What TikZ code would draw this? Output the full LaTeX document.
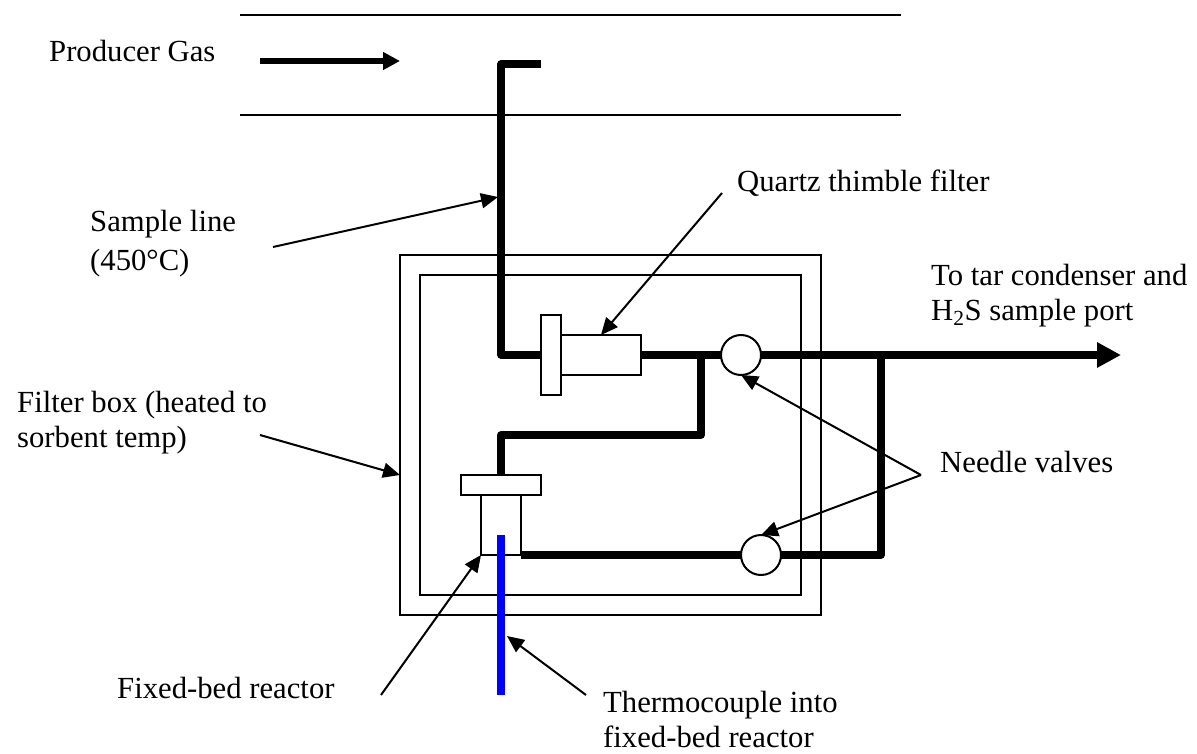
\documentclass[tikz,border=0pt]{standalone}
\usepackage{fontspec}
\setmainfont{Liberation Serif}
\usetikzlibrary{arrows.meta}
\tikzset{
  x=1pt,y=-1pt,
  thin line/.style={line width=2pt,black},
  pipe/.style={line width=7.3pt,black,line join=round},
  leader/.style={line width=2pt,black,-{Triangle[length=17pt,width=15pt]}},
  boxpart/.style={draw=black,line width=2pt,fill=white,rectangle,inner sep=0pt,outer sep=0pt},
  valvepart/.style={draw=black,line width=2pt,fill=white,circle,inner sep=0pt,outer sep=0pt,minimum size=40pt},
  lbl/.style={font=\fontsize{30.7}{35}\selectfont,inner sep=0pt,align=left,anchor=base west},
}
\newcommand{\boxat}[6][]{\node[boxpart,minimum width=#5pt-#3pt,minimum height=#6pt-#4pt,#1] (#2) at ({(#3+#5)/2},{(#4+#6)/2}) {};}
\begin{document}
\begin{tikzpicture}
\useasboundingbox (0,0) rectangle (1197,754);
% coordinates
\coordinate (ductAl) at (240,15); \coordinate (ductAr) at (901,15);
\coordinate (ductBl) at (240,115); \coordinate (ductBr) at (901,115);
\coordinate (flowS) at (260,61); \coordinate (flowE) at (400,61);
\coordinate (inlet) at (541,64); \coordinate (bendT) at (501,64); \coordinate (bendB) at (501,355);
\coordinate (tee) at (701,355); \coordinate (bendC) at (701,435); \coordinate (bendD) at (501,435);
\coordinate (tee2) at (881,355); \coordinate (bendE) at (881,555);
\coordinate (outlet) at (1121,355);
\coordinate (tcTop) at (501,535); \coordinate (tcEnd) at (501,695);
\coordinate (sampleS) at (273,247); \coordinate (sampleT) at (498,197);
\coordinate (quartzS) at (722,193);
\coordinate (fboxS) at (260,435); \coordinate (fboxT) at (400,475);
\coordinate (fixedS) at (381,695);
\coordinate (thermoS) at (586,695); \coordinate (thermoT) at (507,636);
\coordinate (needleS) at (921,475);
% duct
\draw[thin line] (ductAl) -- (ductAr);
\draw[thin line] (ductBl) -- (ductBr);
\draw[line width=6pt,-{Triangle[length=17pt,width=17pt]}] (flowS) -- (flowE);
% filter box
\boxat{outerbox}{400}{255}{821}{615}
\boxat{innerbox}{420}{275}{801}{595}
% pipes
\draw[pipe] (inlet) -- (bendT) -- (bendB) -- (561,355);
\draw[pipe] (641,355) -- (tee) -- (741,355);
\draw[pipe] (tee) -- (bendC) -- (bendD) -- (501,475);
\draw[pipe,-{Triangle[length=24pt,width=24pt]}] (741,355) -- (outlet);
\draw[pipe] (tee2) -- (bendE) -- (761,555);
\draw[pipe] (521,555) -- (761,555);
% components
\boxat{flange}{541}{315}{561}{395}
\boxat{filter}{561}{335}{641}{375}
\boxat{cap}{461}{475}{541}{495}
\boxat{reactor}{481}{495}{521}{555}
\node[valvepart] (valveA) at (741,355) {};
\node[valvepart] (valveB) at (761,555) {};
\draw[blue,line width=7.3pt] (tcTop) -- (tcEnd);
% leaders
\draw[leader] (sampleS) -- (sampleT);
\draw[leader] (quartzS) -- (filter.north);
\draw[leader] (fboxS) -- (fboxT);
\draw[leader] (fixedS) -- (reactor.south west);
\draw[leader] (thermoS) -- (thermoT);
\draw[leader] (needleS) -- (valveA.south);
\draw[leader] (needleS) -- (valveB.north);
% labels
\node[lbl] (tProducer) at (49,62) {Producer Gas};
\node[lbl] (tSample) at (90,270) {Sample line\\[4pt](450°C)};
\node[lbl] (tQuartz) at (737,192) {Quartz thimble filter};
\node[lbl] (tTar) at (931,320) {To tar condenser and\\H\textsubscript{2}S sample port};
\node[lbl] (tFbox) at (17,447) {Filter box (heated to\\sorbent temp)};
\node[lbl] (tNeedle) at (940,472) {Needle valves};
\node[lbl] (tFixed) at (117,698) {Fixed-bed reactor};
\node[lbl] (tThermo) at (603,747) {Thermocouple into\\fixed-bed reactor};
\end{tikzpicture}
\end{document}
